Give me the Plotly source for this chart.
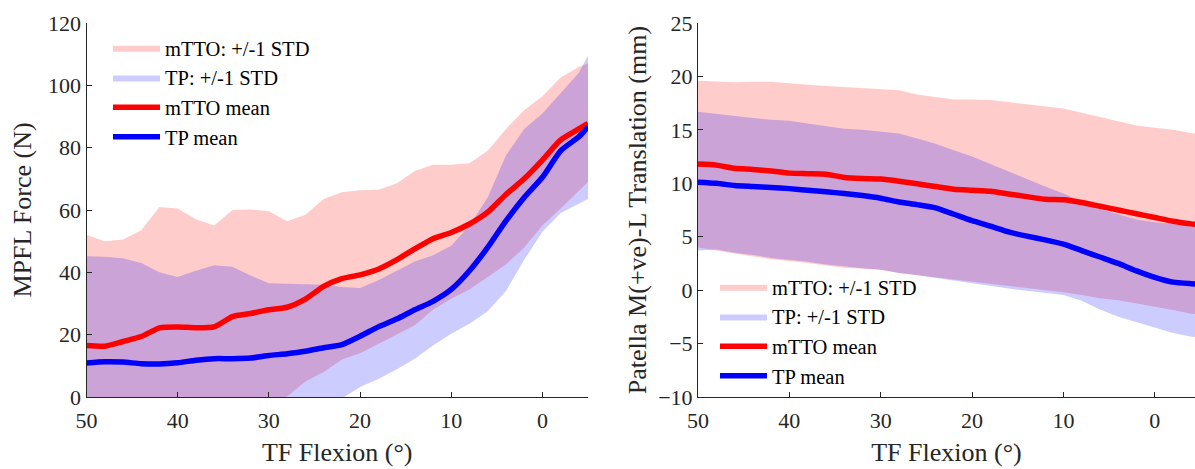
import plotly.graph_objects as go

flexion = [50, 48, 46, 44, 42, 40, 38, 36, 34, 32, 30, 28, 26, 24, 22, 20, 18, 16, 14, 12, 10, 8, 6, 4, 2, 0, -2, -4, -5]

# Left panel: MPFL force (N)
force_mtto_mean = [16.5, 16.3, 17.8, 19.4, 22.2, 22.5, 22.2, 22.5, 25.8, 26.8, 28.0, 28.8, 31.4, 35.5, 38.0, 39.2, 41.0, 44.0, 47.5, 50.8, 52.8, 55.5, 59.3, 65.0, 70.0, 76.0, 82.5, 86.0, 87.8]
force_tp_mean = [10.9, 11.3, 11.2, 10.7, 10.6, 11.0, 11.8, 12.3, 12.3, 12.5, 13.3, 13.9, 14.7, 15.8, 16.8, 19.5, 22.5, 25.0, 28.0, 30.7, 34.5, 40.5, 48.0, 56.5, 64.0, 70.5, 79.0, 83.5, 86.7]
force_mtto_upper = [52.0, 50.0, 50.5, 53.5, 61.0, 60.5, 57.0, 55.0, 60.0, 60.2, 59.6, 56.4, 58.5, 63.5, 65.7, 66.3, 66.5, 68.5, 72.5, 74.5, 74.5, 75.0, 79.0, 86.0, 92.0, 96.5, 102.5, 106.0, 107.0]
force_mtto_lower = [-14, -13, -12, -11, -10, -9, -8, -7, -5, -4, -2, 0.2, 5.0, 8.0, 12.0, 14.0, 17.0, 20.0, 23.0, 28.0, 31.5, 34.5, 38.5, 42.5, 48.0, 55.0, 60.5, 66.0, 69.0]
force_tp_upper = [45.2, 45.0, 44.5, 43.0, 40.0, 38.5, 40.5, 42.3, 41.8, 39.0, 36.5, 36.3, 36.0, 36.0, 35.3, 35.0, 37.5, 40.5, 43.5, 45.5, 48.5, 55.0, 64.0, 77.5, 86.0, 91.0, 97.5, 104.0, 109.6]
force_tp_lower = [-28, -27, -26, -25, -24, -22, -20, -18, -16, -14, -11, -8, -6, -4, -0.5, 3.2, 5.8, 8.8, 12.3, 16.5, 20.3, 23.5, 27.5, 34.0, 44.0, 53.0, 59.0, 62.0, 63.5]

# Right panel: patella M(+ve)-L translation (mm)
trans_mtto_mean = [11.8, 11.7, 11.4, 11.3, 11.15, 10.95, 10.9, 10.85, 10.55, 10.45, 10.4, 10.2, 9.95, 9.7, 9.45, 9.35, 9.25, 9.0, 8.75, 8.5, 8.45, 8.2, 7.85, 7.5, 7.15, 6.8, 6.45, 6.2, 6.1]
trans_tp_mean = [10.1, 10.0, 9.8, 9.7, 9.6, 9.5, 9.35, 9.2, 9.05, 8.85, 8.6, 8.25, 8.0, 7.7, 7.1, 6.5, 6.0, 5.45, 5.05, 4.7, 4.3, 3.7, 3.1, 2.5, 1.8, 1.2, 0.75, 0.6, 0.55]
trans_mtto_upper = [19.6, 19.55, 19.45, 19.5, 19.5, 19.35, 19.2, 19.1, 19.0, 18.9, 18.85, 18.7, 18.3, 18.05, 17.85, 17.85, 17.8, 17.6, 17.4, 17.2, 17.0, 16.6, 16.2, 15.8, 15.4, 15.2, 15.0, 14.7, 14.6]
trans_mtto_lower = [4.0, 3.7, 3.4, 3.15, 2.9, 2.75, 2.55, 2.3, 2.1, 2.0, 1.9, 1.6, 1.4, 1.2, 1.0, 0.8, 0.6, 0.45, 0.25, 0.0, -0.2, -0.45, -0.75, -0.95, -1.25, -1.5, -1.85, -2.2, -2.3]
trans_tp_upper = [16.7, 16.5, 16.25, 16.1, 15.95, 15.85, 15.6, 15.35, 15.1, 15.0, 14.85, 14.65, 14.2, 13.7, 13.1, 12.5, 11.8, 11.1, 10.35, 9.7, 9.05, 8.3, 7.6, 7.1, 6.6, 6.35, 6.2, 6.0, 5.95]
trans_tp_lower = [3.7, 3.8, 3.5, 3.3, 3.0, 2.85, 2.65, 2.4, 2.2, 2.05, 1.9, 1.6, 1.4, 1.15, 0.85, 0.6, 0.35, 0.15, -0.05, -0.25, -0.45, -1.0, -1.8, -2.5, -3.0, -3.5, -4.0, -4.35, -4.45]

x_ticks = [50, 40, 30, 20, 10, 0]
force_ticks = [0, 20, 40, 60, 80, 100, 120]
trans_ticks = [-10, -5, 0, 5, 10, 15, 20, 25]

RED_FILL = "rgba(255,0,0,0.2)"
BLUE_FILL = "rgba(0,0,255,0.2)"
FONT = "Times New Roman, Liberation Serif, Tinos, DejaVu Serif, serif"
AXC = "#262626"

fig = go.Figure()


def add_panel(xa, ya, legend, mtto_lo, mtto_hi, tp_lo, tp_hi, mtto_mean, tp_mean):
    common = dict(xaxis=xa, yaxis=ya, legend=legend, hoverinfo="skip")
    fig.add_trace(go.Scatter(x=flexion, y=mtto_lo, mode="lines", line=dict(width=0),
                             showlegend=False, **common))
    fig.add_trace(go.Scatter(x=flexion, y=mtto_hi, mode="lines", line=dict(width=0, color=RED_FILL),
                             fill="tonexty", fillcolor=RED_FILL, name="mTTO: +/-1 STD", **common))
    fig.add_trace(go.Scatter(x=flexion, y=tp_lo, mode="lines", line=dict(width=0),
                             showlegend=False, **common))
    fig.add_trace(go.Scatter(x=flexion, y=tp_hi, mode="lines", line=dict(width=0, color=BLUE_FILL),
                             fill="tonexty", fillcolor=BLUE_FILL, name="TP: +/-1 STD", **common))
    fig.add_trace(go.Scatter(x=flexion, y=mtto_mean, mode="lines", line=dict(color="#FF0000", width=5.5, shape="spline", smoothing=0.6),
                             name="mTTO mean", **common))
    fig.add_trace(go.Scatter(x=flexion, y=tp_mean, mode="lines", line=dict(color="#0000FF", width=5.5, shape="spline", smoothing=0.6),
                             name="TP mean", **common))


add_panel("x", "y", "legend", force_mtto_lower, force_mtto_upper, force_tp_lower, force_tp_upper,
          force_mtto_mean, force_tp_mean)
add_panel("x2", "y2", "legend2", trans_mtto_lower, trans_mtto_upper, trans_tp_lower, trans_tp_upper,
          trans_mtto_mean, trans_tp_mean)

ax_common = dict(showline=True, linecolor=AXC, linewidth=1, ticks="inside", ticklen=5,
                 tickcolor=AXC, showgrid=False, zeroline=False, mirror=False,
                 tickfont=dict(family=FONT, size=22, color=AXC), automargin=False)
title_font = dict(family=FONT, size=26, color=AXC)

ydom = [1 - 397 / 469, 1 - 23 / 469]

legend_common = dict(xanchor="left", yanchor="top", bgcolor="rgba(0,0,0,0)", itemwidth=47,
                     tracegroupgap=0, traceorder="normal",
                     font=dict(family=FONT, size=20.5, color="#000000"))

fig.update_layout(
    width=1195, height=469,
    margin=dict(l=0, r=0, t=0, b=0),
    font=dict(family=FONT, color=AXC),
    paper_bgcolor="white", plot_bgcolor="white",
    showlegend=True,
    xaxis=dict(domain=[86.5 / 1195, 588 / 1195], range=[50, -5], tickvals=x_ticks, anchor="y",
               ticklabelstandoff=4,
               title=dict(text="TF Flexion (°)", font=title_font, standoff=10), **ax_common),
    yaxis=dict(domain=ydom, range=[0, 120], tickvals=force_ticks, anchor="x",
               title=dict(text="MPFL Force (N)", font=title_font, standoff=8), **ax_common),
    xaxis2=dict(domain=[698 / 1195, 1.0], range=[50, -4.4], tickvals=x_ticks, anchor="y2",
                ticklabelstandoff=4,
                title=dict(text="TF Flexion (°)", font=title_font, standoff=10), **ax_common),
    yaxis2=dict(domain=ydom, range=[-10, 25], tickvals=trans_ticks, anchor="x2",
                title=dict(text="Patella M(+ve)-L Translation (mm)", font=title_font, standoff=4), **ax_common),
    legend=dict(x=108 / 1195, y=1 - 28 / 469, **legend_common),
    legend2=dict(x=715 / 1195, y=1 - 267 / 469, **legend_common),
)

fig.write_html("out.html")
